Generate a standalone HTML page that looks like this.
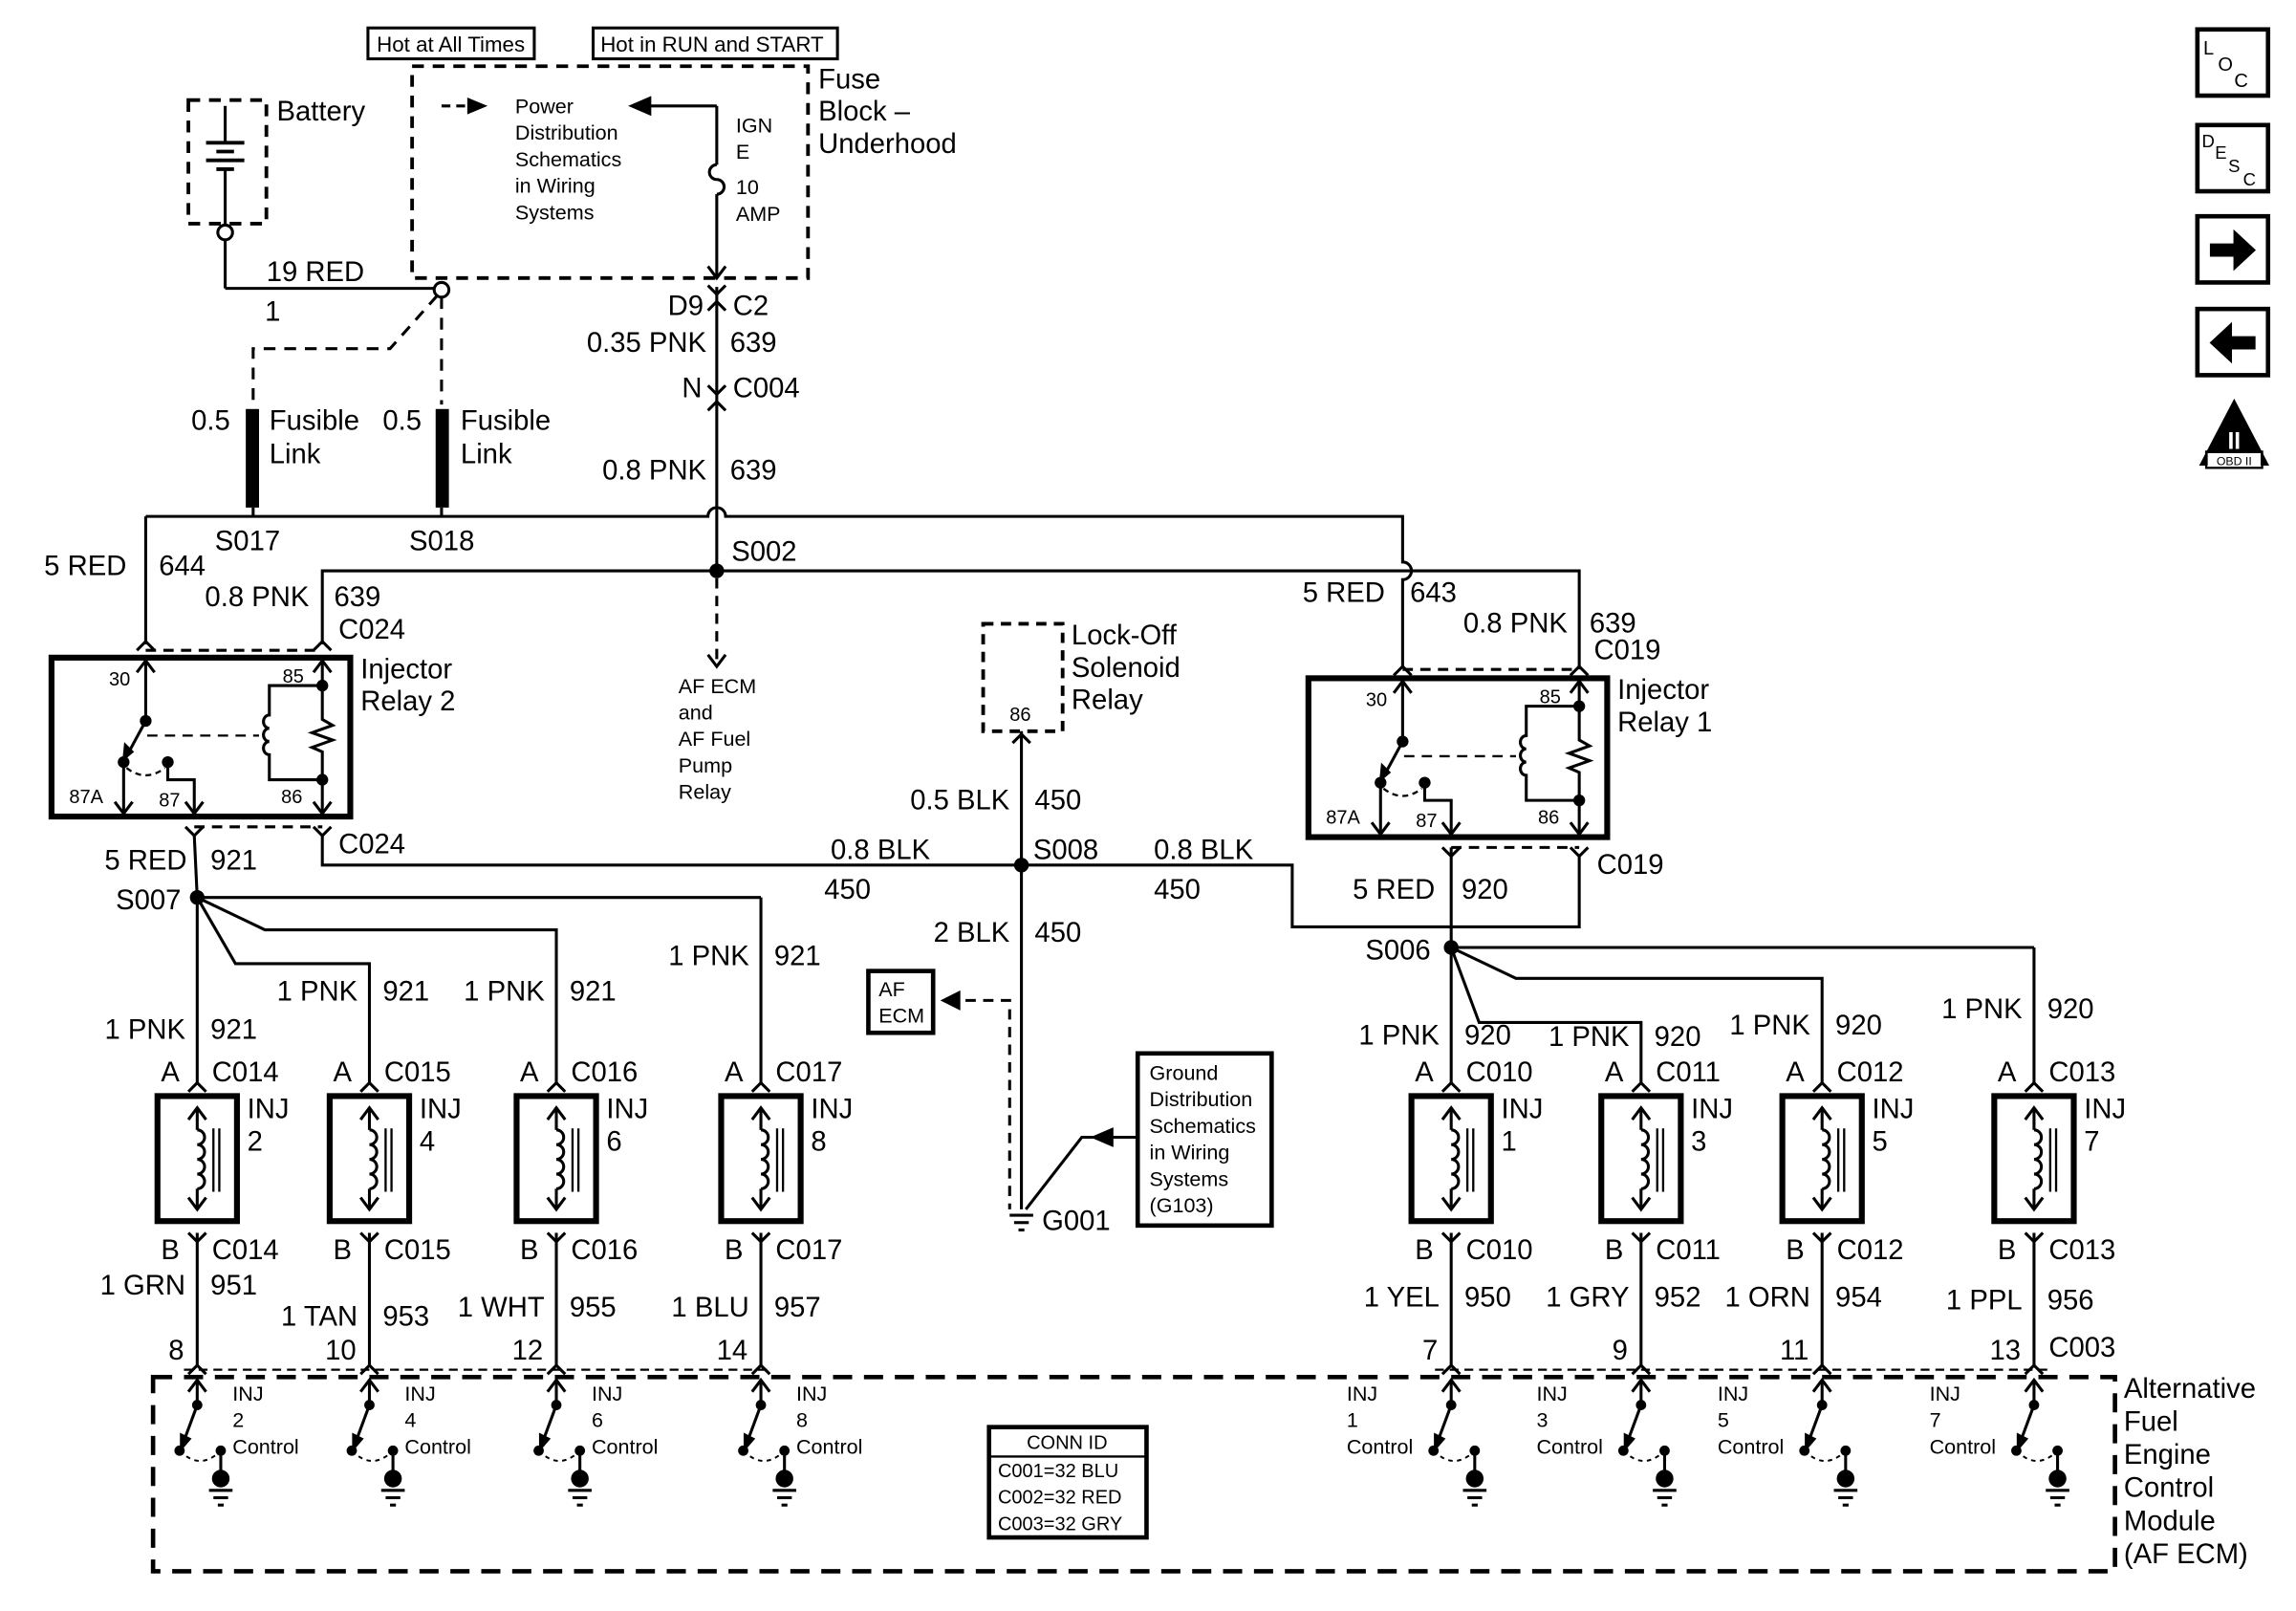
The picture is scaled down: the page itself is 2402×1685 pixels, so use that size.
<!DOCTYPE html>
<html><head><meta charset="utf-8">
<style>
html,body{margin:0;padding:0;background:#fff;}
svg{display:block;}
text{font-family:"Liberation Sans",Arial,sans-serif;fill:#000;}
</style></head>
<body>
<svg id="s" xmlns="http://www.w3.org/2000/svg" width="2402" height="1685" viewBox="0 0 1560 1095" preserveAspectRatio="none">
<rect width="1560" height="1095" fill="#fff"/>
<g id="g" stroke="#000" fill="none" stroke-width="2" stroke-linecap="butt"></g>
</svg>
<script>
var o=[];
function L(x1,y1,x2,y2,w,d){o.push('<line x1="'+x1+'" y1="'+y1+'" x2="'+x2+'" y2="'+y2+'"'+(w?' stroke-width="'+w+'"':'')+(d?' stroke-dasharray="'+d+'"':'')+'/>');}
function P(d,w,extra){o.push('<path d="'+d+'"'+(w?' stroke-width="'+w+'"':'')+(extra||'')+'/>');}
function R(x,y,w,h,sw,d){o.push('<rect x="'+x+'" y="'+y+'" width="'+w+'" height="'+h+'" stroke-width="'+(sw||2)+'"'+(d?' stroke-dasharray="'+d+'"':'')+'/>');}
function T(x,y,t,s,a,extra){o.push('<text x="'+x+'" y="'+y+'" font-size="'+(s||19)+'" stroke="none"'+(a?' text-anchor="'+a+'"':'')+(extra||'')+'>'+t+'</text>');}
function D(x,y,r){o.push('<circle cx="'+x+'" cy="'+y+'" r="'+(r||4)+'" fill="#000" stroke="none"/>');}
function C(x,y,r){o.push('<circle cx="'+x+'" cy="'+y+'" r="'+(r||5)+'" fill="#fff"/>');}
function conA(x,y){P('M'+(x-6)+' '+(y+6)+'L'+x+' '+y+'L'+(x+6)+' '+(y+6));}
function conY(x,y){P('M'+(x-6)+' '+(y-6)+'L'+x+' '+y+'L'+(x+6)+' '+(y-6));}
function aUp(x,y){P('M'+(x-6)+' '+(y+8)+'L'+x+' '+y+'L'+(x+6)+' '+(y+8));}
function aDn(x,y){P('M'+(x-6)+' '+(y-8)+'L'+x+' '+y+'L'+(x+6)+' '+(y-8));}
function gnd(x,y){L(x-8,y,x+8,y);L(x-5,y+5,x+5,y+5);L(x-2,y+10,x+2,y+10);}

R(250,19,113,21,2);T(256,35,'Hot at All Times',14.5);
R(403,19,166,21,2);T(408,35,'Hot in RUN and START',14.5);
R(280,45,269,144,2.5,'8,6');
T(556,60,'Fuse');T(556,82,'Block –');T(556,104,'Underhood');
['Power','Distribution','Schematics','in Wiring','Systems'].forEach(function(t,i){T(350,77+i*18,t,14);});
L(300,72,318,72,2,'6,4');P('M330 72L318 67L318 77Z',1,' fill="#000"');
L(487,72,440,72);P('M428 72L442 66L442 78Z',1,' fill="#000"');
L(487,72,487,112);P('M487 112 A5 5 0 0 0 487 122 A5 5 0 0 1 487 132');L(487,132,487,189);aDn(487,189);
T(500,90,'IGN',14);T(500,108,'E',14);T(500,132,'10',14);T(500,150,'AMP',14);
R(128,68,53,84,2.5,'8,6');T(188,82,'Battery');
L(153,72,153,96);L(140,97,166,97,2.5);L(147,103,159,103,2.5);L(140,109,166,109,2.5);L(147,115,159,115,2.5);L(153,115,153,153);
C(153,158);L(153,163,153,196);L(153,196,295,196);T(181,191,'19 RED');T(180,218,'1');
C(300,197);
P('M297 201L265 237L172 237L172 275',2,' stroke-dasharray="8,6"');L(300,202,300,275,2,'8,6');
o.push('<rect x="167" y="278" width="9" height="67" fill="#000" stroke="none"/><rect x="296" y="278" width="9" height="67" fill="#000" stroke="none"/>');
T(130,292,'0.5');T(183,292,'Fusible');T(183,315,'Link');
T(260,292,'0.5');T(313,292,'Fusible');T(313,315,'Link');
L(172,345,172,351);L(300,345,300,351);
P('M99 351L481 351A6 6 0 0 1 493 351L953 351L953 382A6 6 0 0 1 953 394L953 453');
T(146,374,'S017');T(278,374,'S018');
L(99,351,99,438);conA(99,436);T(30,391,'5 RED');T(108,391,'644');
P('M219 438L219 388L1073 388L1073 455');
conA(219,436);T(210,412,'0.8 PNK',19,'end');T(227,412,'639');T(230,434,'C024');
L(99,442,219,442,2,'7,5');
L(487,195,487,388);conY(487,200);conA(487,205);T(478,214,'D9',19,'end');T(498,214,'C2');
T(480,239,'0.35 PNK',19,'end');T(496,239,'639');
conY(487,268);conA(487,273);T(477,270,'N',19,'end');T(498,270,'C004');
T(480,326,'0.8 PNK',19,'end');T(496,326,'639');
D(487,388,5);T(497,381,'S002');
L(487,393,487,450,2,'7,5');aDn(487,453);
['AF ECM','and','AF Fuel','Pump','Relay'].forEach(function(t,i){T(461,471+i*18,t,14);});
function relay(dx,dy){
 R(35+dx,447+dy,203,108,4);
 L(99+dx,449+dy,99+dx,490+dy);aUp(99+dx,449+dy);D(99+dx,490+dy,4);
 L(99+dx,490+dy,86+dx,514+dy);P('M'+(84+dx)+' '+(516+dy)+'l1 -10 l5 5z',1.5,' fill="#000"');
 D(84+dx,518+dy,4);L(84+dx,518+dy,84+dx,553+dy);aDn(84+dx,553+dy);
 D(114+dx,518+dy,4);P('M'+(114+dx)+' '+(518+dy)+'L'+(114+dx)+' '+(530+dy)+'L'+(132+dx)+' '+(530+dy)+'L'+(132+dx)+' '+(553+dy));aDn(132+dx,553+dy);
 P('M'+(86+dx)+' '+(522+dy)+'Q'+(99+dx)+' '+(532+dy)+' '+(112+dx)+' '+(522+dy),1.5,' stroke-dasharray="4,3"');
 L(100+dx,500+dy,176+dx,500+dy,1.5,'7,5');
 P('M'+(219+dx)+' '+(449+dy)+'L'+(219+dx)+' '+(489+dy)+'l7 4 l-14 5 l14 5 l-14 5 l7 3 L'+(219+dx)+' '+(553+dy));
 aUp(219+dx,449+dy);aDn(219+dx,553+dy);
 P('M'+(219+dx)+' '+(466+dy)+'L'+(183+dx)+' '+(466+dy)+'L'+(183+dx)+' '+(486+dy)+'a4 4.5 0 0 0 0 9a4 4.5 0 0 0 0 9a4 4.5 0 0 0 0 9L'+(183+dx)+' '+(530+dy)+'L'+(219+dx)+' '+(530+dy));
 D(219+dx,466+dy,4);D(219+dx,530+dy,4);
 T(74+dx,466+dy,'30',13);T(192+dx,464+dy,'85',13);T(47+dx,546+dy,'87A',13);T(108+dx,548+dy,'87',13);T(191+dx,546+dy,'86',13);
}
relay(0,0);T(245,461,'Injector');T(245,483,'Relay 2');
relay(854,14);T(1099,475,'Injector');T(1099,497,'Relay 1');
L(953,455,1073,455,2,'7,5');conA(953,453);conA(1073,453);
T(941,409,'5 RED',19,'end');T(958,409,'643');T(1065,430,'0.8 PNK',19,'end');T(1080,430,'639');T(1083,448,'C019');
L(132,562,219,562,2,'7,5');conY(132,568);conY(219,568);T(230,580,'C024');
L(132,568,134,610);
T(127,591,'5 RED',19,'end');T(143,591,'921');T(123,618,'S007',19,'end');D(134,610,5);
P('M219 568L219 588L878 588L878 630L1073 630L1073 582');
D(694,588,5);T(632,584,'0.8 BLK',19,'end');T(560,611,'450');T(702,584,'S008');T(784,584,'0.8 BLK');T(784,611,'450');
L(986,576,1073,576,2,'7,5');conY(986,582);conY(1073,582);T(1085,594,'C019');
L(986,576,986,644);T(975,611,'5 RED',19,'end');T(993,611,'920');T(972,652,'S006',19,'end');D(986,644,5);
R(668,424,54,73,2.5,'7,5');T(686,490,'86',13);T(728,438,'Lock-Off');T(728,460,'Solenoid');T(728,482,'Relay');
L(694,497,694,822);conA(694,499);T(686,550,'0.5 BLK',19,'end');T(703,550,'450');T(686,640,'2 BLK',19,'end');T(703,640,'450');
R(590,660,44,42,3);T(597,677,'AF',14);T(597,695,'ECM',14);
P('M640 680L652 674L652 686Z',1,' fill="#000"');P('M656 680L686 680L686 822',2,' stroke-dasharray="7,5"');
gnd(694,826);T(708,836,'G001');
R(773,716,91,117,3);['Ground','Distribution','Schematics','in Wiring','Systems','(G103)'].forEach(function(t,i){T(781,734+i*18,t,14);});
P('M742 773L756 767L756 779Z',1,' fill="#000"');P('M773 773L735 773L697 822');
L(134,610,517,610);P('M134 610L180 632L378 632L378 736');P('M134 610L160 655L251 655L251 736');L(517,610,517,736);L(134,610,134,736);
L(986,644,1382,644);P('M986 644L1030 665L1238 665L1238 736');P('M986 644L1005 695L1115 695L1115 736');L(986,644,986,736);L(1382,644,1382,736);
function inj(x,n,top,bot,tl,lab){
 conA(x,736);R(x-27,745,54,85,4);
 aUp(x,753);L(x,753,x,768);
 P('M'+x+' 768a5 5 0 0 1 0 10a5 5 0 0 1 0 10a5 5 0 0 1 0 10a5 5 0 0 1 0 10');L(x,808,x,822);aDn(x,822);
 L(x+11,767,x+11,810,1.5);L(x+15,767,x+15,810,1.5);
 T(x+34,760,'INJ');T(x+34,782,n);
 T(x-12,735,'A',19,'end');T(x+10,735,lab);
 conY(x,844);L(x,838,x,928);conA(x,928);
 T(x-12,856,'B',19,'end');T(x+10,856,lab);
 T(x-8,top[1],top[0],19,'end');T(x+9,top[1],top[2]);
 T(x-8,bot[1],bot[0],19,'end');T(x+9,bot[1],bot[2]);
 T(x-9,924,tl,19,'end');
 aUp(x,938);L(x,938,x,955);D(x,955,3.5);L(x,955,x-10,982);P('M'+(x-11)+' 985l0 -10 l6 3z',1.5,' fill="#000"');
 D(x-12,986,3.5);P('M'+(x-12)+' 986Q'+(x+2)+' 1000 '+(x+16)+' 986',1.3,' stroke-dasharray="3,3"');
 D(x+16,986,3.5);L(x+16,986,x+16,1004);D(x+16,1005,6);gnd(x+16,1013);
}
var left=[[134,'2',['1 PNK',706,'921'],['1 GRN',880,'951'],'8','C014'],
[251,'4',['1 PNK',680,'921'],['1 TAN',901,'953'],'10','C015'],
[378,'6',['1 PNK',680,'921'],['1 WHT',895,'955'],'12','C016'],
[517,'8',['1 PNK',656,'921'],['1 BLU',895,'957'],'14','C017']];
var right=[[986,'1',['1 PNK',710,'920'],['1 YEL',888,'950'],'7','C010'],
[1115,'3',['1 PNK',711,'920'],['1 GRY',888,'952'],'9','C011'],
[1238,'5',['1 PNK',703,'920'],['1 ORN',888,'954'],'11','C012'],
[1382,'7',['1 PNK',692,'920'],['1 PPL',890,'956'],'13','C013']];
left.forEach(function(a){inj.apply(null,a);T(a[0]+24,952,'INJ',14);T(a[0]+24,970,a[1],14);T(a[0]+24,988,'Control',14);});
right.forEach(function(a){inj.apply(null,a);T(a[0]-71,952,'INJ',14);T(a[0]-71,970,a[1],14);T(a[0]-71,988,'Control',14);});
T(1392,922,'C003');
L(125,931,525,931,1.5,'6,4');L(975,931,1392,931,1.5,'6,4');
R(104,936,1333,132,3,'13,8');
['Alternative','Fuel','Engine','Control','Module','(AF ECM)'].forEach(function(t,i){T(1443,950+i*22.5,t);});
R(672,970,107,75,3);T(725,985,'CONN ID',13,'middle');L(672,990,779,990,1.5);
T(678,1004,'C001=32 BLU',13);T(678,1022,'C002=32 RED',13);T(678,1040,'C003=32 GRY',13);
R(1493,20,48,45,3);T(1497,37,'L',13);T(1507,48,'O',13);T(1518,59,'C',13);
R(1493,85,48,45,3);T(1496,100,'D',12);T(1505,108,'E',12);T(1514,117,'S',12);T(1524,126,'C',12);
R(1493,147,48,45,3);P('M1502 166L1518 166L1518 157L1532 170L1518 183L1518 174L1502 174Z',1,' fill="#000"');
R(1493,210,48,45,3);P('M1532 229L1516 229L1516 220L1502 233L1516 246L1516 237L1532 237Z',1,' fill="#000"');
P('M1518 272L1495 316L1541 316Z',1,' fill="#000"');T(1518,305,'II',16,'middle',' style="fill:#fff;font-weight:bold"');
R(1499,307,38,11,1.5);o.push('<rect x="1500" y="308" width="36" height="9" fill="#fff" stroke="none"/>');T(1518,316,'OBD II',8,'middle');
document.getElementById('g').innerHTML=o.join('');
</script>
</body></html>
